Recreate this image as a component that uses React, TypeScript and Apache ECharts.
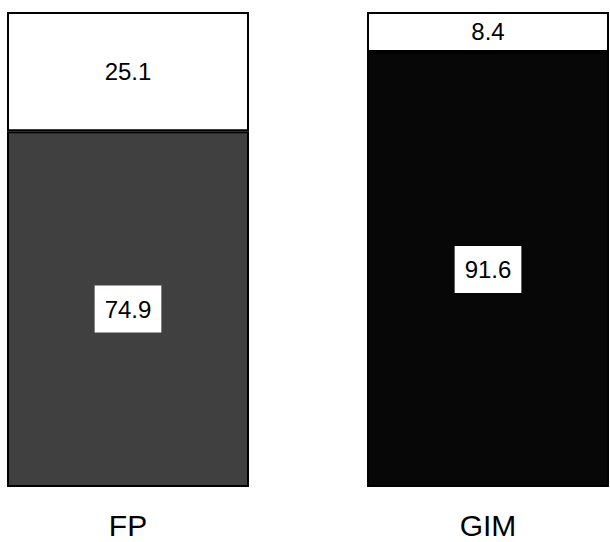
import React, { useEffect, useRef } from "react";
import * as echarts from "echarts";

const categories = ["FP", "GIM"];
const lowerValues = [74.9, 91.6];
const upperValues = [25.1, 8.4];
const lowerColors = ["#404040", "#070707"];

export default function App() {
  const ref = useRef<HTMLDivElement>(null);
  useEffect(() => {
    if (!ref.current) return;
    const chart = echarts.init(ref.current, null, { renderer: "svg" });
    const font = "'Liberation Sans', Arial, Helvetica, sans-serif";
    chart.setOption({
      animation: false,
      backgroundColor: "#ffffff",
      grid: {
        left: -52,
        width: 720,
        top: 12,
        bottom: 55,
        containLabel: false,
        outerBoundsMode: "none",
      },
      xAxis: {
        type: "category",
        data: categories,
        axisLine: { show: false },
        axisTick: { show: false },
        axisLabel: { fontSize: 30, color: "#000", fontFamily: font, margin: 23 },
      },
      yAxis: {
        type: "value",
        min: 0,
        max: 100,
        show: false,
        splitLine: { show: false },
      },
      series: [
        {
          type: "bar",
          stack: "s",
          barWidth: 242,
          data: lowerValues.map((v, i) => ({
            value: v,
            itemStyle: { color: lowerColors[i] },
          })),
          itemStyle: { borderColor: "#000", borderWidth: 2 },
          label: {
            show: true,
            position: "inside",
            fontSize: 24,
            color: "#000",
            fontFamily: font,
            backgroundColor: "#ffffff",
            padding: [12, 10, 11, 10],
            formatter: (p: any) => p.value.toFixed(1),
          },
        },
        {
          type: "bar",
          stack: "s",
          barWidth: 242,
          data: upperValues,
          itemStyle: { color: "#ffffff", borderColor: "#000", borderWidth: 2 },
          label: {
            show: true,
            position: "inside",
            fontSize: 24,
            color: "#000",
            fontFamily: font,
            formatter: (p: any) => p.value.toFixed(1),
          },
        },
      ],
    });
    return () => chart.dispose();
  }, []);
  return (
    <div
      ref={ref}
      style={{ position: "fixed", left: 0, top: 0, width: 610, height: 542 }}
    />
  );
}
